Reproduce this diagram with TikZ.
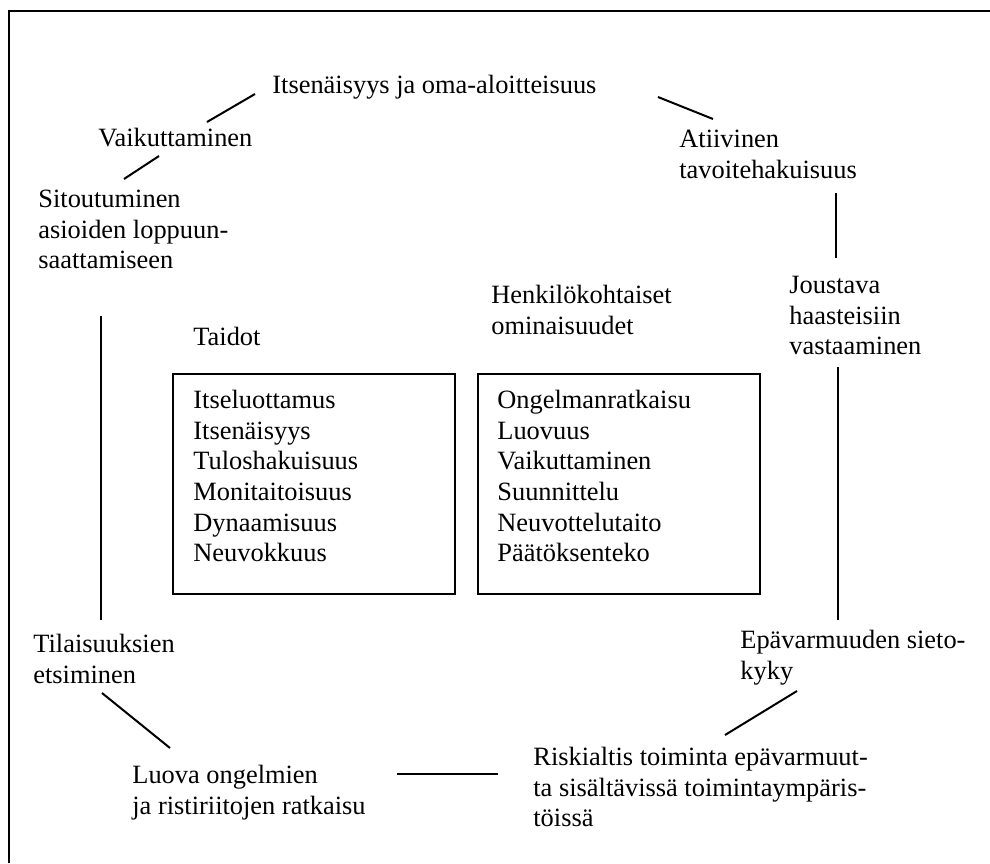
\documentclass[tikz,border=0pt]{standalone}
\usepackage{fontspec}
\setmainfont{Liberation Serif}
\begin{document}
\begin{tikzpicture}[x=0.5pt,y=-0.5pt,
  lbl/.style={anchor=north west, inner sep=0pt, align=left,
              font=\fontsize{13.2}{15.35}\selectfont},
  link/.style={line width=1pt},
  panel/.style={draw, line width=1pt, anchor=north west, inner sep=0pt,
                minimum width=141pt, minimum height=110pt}]
\useasboundingbox (0,0) rectangle (990,863);
% frame
\draw[line width=1.2pt] (9,863) -- (9,11) -- (990,11);

% labels around the cycle (north west corner = baseline - 21.5)
\node[lbl] (oma)   at (272,71.5)  {\strut Itsenäisyys ja oma-aloitteisuus};
\node[lbl] (vaik)  at (98,124.5)  {\strut Vaikuttaminen};
\node[lbl] (sitou) at (38,185.5)  {\strut Sitoutuminen\\asioiden loppuun-\\saattamiseen};
\node[lbl] (atiiv) at (679,125.5) {\strut Atiivinen\\tavoitehakuisuus};
\node[lbl] (joust) at (789,271.5) {\strut Joustava\\haasteisiin\\vastaaminen};
\node[lbl] (tilai) at (33,630.5)  {\strut Tilaisuuksien\\etsiminen};
\node[lbl] (luova) at (132,761.5) {\strut Luova ongelmien\\ja ristiriitojen ratkaisu};
\node[lbl] (epav)  at (740,626.5) {\strut Epävarmuuden sieto-\\kyky};
\node[lbl] (riski) at (533,743.5) {\strut Riskialtis toiminta epävarmuut-\\ta sisältävissä toimintaympäris-\\töissä};

% centre: headings and boxes
\node[lbl] (taidot) at (193,323.5) {\strut Taidot};
\node[lbl] (henk)   at (491,281.5) {\strut Henkilökohtaiset\\ominaisuudet};
\node[panel] (box1) at (172,373) {};
\node[panel] (box2) at (477,373) {};
\node[lbl] (list1) at (193,386.5) {\strut Itseluottamus\\Itsenäisyys\\Tuloshakuisuus\\Monitaitoisuus\\Dynaamisuus\\Neuvokkuus};
\node[lbl] (list2) at (497,386.5) {\strut Ongelmanratkaisu\\Luovuus\\Vaikuttaminen\\Suunnittelu\\Neuvottelutaito\\Päätöksenteko};

% connector end points
\coordinate (c1a) at (255,94);  \coordinate (c1b) at (207,122);
\coordinate (c2a) at (159,156); \coordinate (c2b) at (124,179);
\coordinate (c3a) at (658,97);  \coordinate (c3b) at (713,119);
\coordinate (c4a) at (836,193); \coordinate (c4b) at (836,258);
\coordinate (c5a) at (838,367); \coordinate (c5b) at (838,620);
\coordinate (c6a) at (797,691); \coordinate (c6b) at (725,735);
\coordinate (c7a) at (498,774); \coordinate (c7b) at (397,774);
\coordinate (c8a) at (170,748); \coordinate (c8b) at (102,693);
\coordinate (c9a) at (101,620); \coordinate (c9b) at (101,316);

\draw[link] (c1a) -- (c1b);
\draw[link] (c2a) -- (c2b);
\draw[link] (c3a) -- (c3b);
\draw[link] (c4a) -- (c4b);
\draw[link] (c5a) -- (c5b);
\draw[link] (c6a) -- (c6b);
\draw[link] (c7a) -- (c7b);
\draw[link] (c8a) -- (c8b);
\draw[link] (c9a) -- (c9b);
\end{tikzpicture}
\end{document}
